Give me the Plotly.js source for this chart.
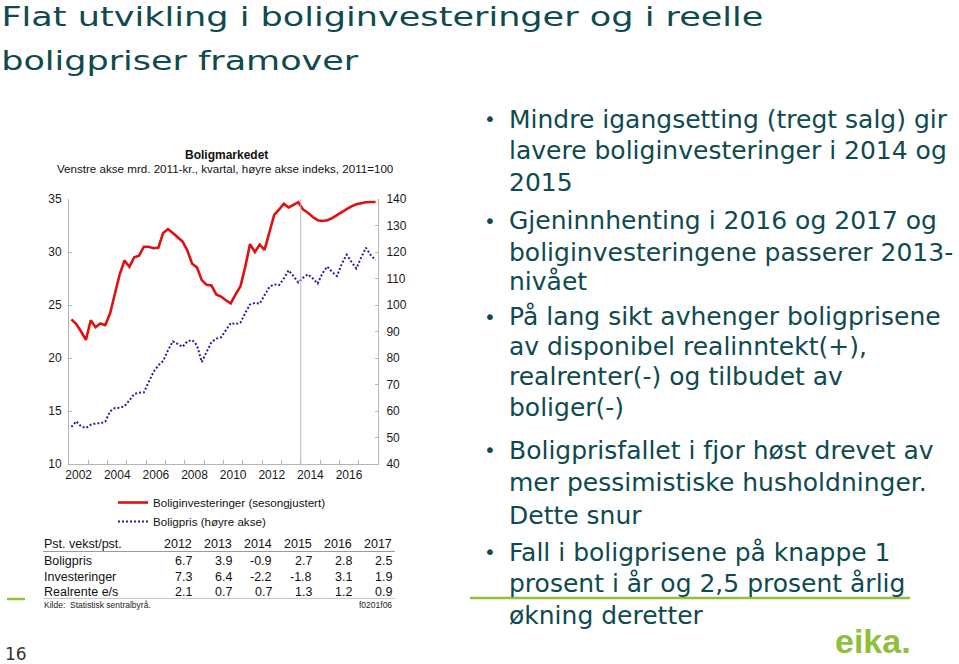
<!DOCTYPE html>
<html><head><meta charset="utf-8">
<script src="https://cdn.plot.ly/plotly-3.0.1.min.js"></script>
<style>html,body{margin:0;padding:0;background:#fff;}#chart{width:959px;height:664px;}</style>
</head><body><div id="chart"></div>
<script>
// ---- data ----
const years = [2002,2003,2004,2005,2006,2007,2008,2009,2010,2011,2012,2013,2014,2015,2016,2017];
const quarters = [1,2,3,4];
const investeringer = [
  23.65,23.2,22.5,21.7, 23.55,22.9,23.25,23.1, 24.2,26.2,27.9,29.2, 28.6,29.5,29.65,30.5,
  30.5,30.35,30.4,31.8, 32.15,31.8,31.4,31.0, 30.15,28.9,28.55,27.35, 26.9,26.85,26.0,25.8,
  25.45,25.15,26.0,26.75, 28.6,30.75,30.0,30.7, 30.2,31.8,33.5,34.0, 34.55,34.2,34.45,34.7,
  34.0,33.7,33.3,33.0, 32.92,33.0,33.2,33.5, 33.8,34.05,34.3,34.5, 34.6,34.7,34.72,34.72
];
const boligpris = [
  54.0,56.1,54.2,53.6, 54.8,55.3,55.4,55.9, 59.9,61.1,61.2,61.8, 64.0,66.4,66.9,67.0,
  70.9,74.7,77.2,78.9, 82.9,86.3,85.3,84.2, 86.3,86.8,84.8,78.5, 82.3,85.9,87.3,87.8,
  90.5,93.2,92.8,93.3, 97.0,100.2,100.8,100.5, 103.7,106.8,107.8,107.5, 110.0,113.1,110.9,108.5,
  110.3,111.6,110.0,108.1, 112.0,114.5,112.5,110.9, 115.5,119.0,116.3,113.8, 117.8,121.6,118.8,116.9
];
const xTickYears = [2002,2004,2006,2008,2010,2012,2014,2016];
const xTickLabels = ['2002','2004','2006','2008','2010','2012','2014','2016'];
const yearBounds = [2003,2004,2005,2006,2007,2008,2009,2010,2011,2012,2013,2014,2015,2016,2017];
const forecastStart = 2014;

const tableHeader = 'Pst. vekst/pst.';
const tableYears = ['2012','2013','2014','2015','2016','2017'];
const tableRowNames = ['Boligpris','Investeringer','Realrente e/s'];
const tblBoligpris = ['6.7','3.9','-0.9','2.7','2.8','2.5'];
const tblInvesteringer = ['7.3','6.4','-2.2','-1.8','3.1','1.9'];
const tblRealrente = ['2.1','0.7','0.7','1.3','1.2','0.9'];

const titleLines = ['Flat utvikling i boliginvesteringer og i reelle','boligpriser framover'];
const bullets = [
  ['Mindre igangsetting (tregt salg) gir','lavere boliginvesteringer i 2014 og','2015'],
  ['Gjeninnhenting i 2016 og 2017 og','boliginvesteringene passerer 2013-','nivået'],
  ['På lang sikt avhenger boligprisene','av disponibel realinntekt(+),','realrenter(-) og tilbudet av','boliger(-)'],
  ['Boligprisfallet i fjor høst drevet av','mer pessimistiske husholdninger.','Dette snur'],
  ['Fall i boligprisene på knappe 1','prosent i år og 2,5 prosent årlig','økning deretter']
];

// ---- layout helpers ----
const W = 959, H = 664;
const px = x => x / W;
const py = y => 1 - y / H;
const CF = 'Liberation Sans, Arial, Helvetica, sans-serif';
const SF = 'DejaVu Sans, Verdana, sans-serif';
const TEAL = '#0e4a4e';
const GREEN = '#8fc03c';

const xq = [];
years.forEach(y => quarters.forEach(q => xq.push(y + (q - 0.5) / 4)));

const traces = [
  {x: xq, y: investeringer, type: 'scatter', mode: 'lines', name: 'Boliginvesteringer (sesongjustert)',
   line: {color: '#e01010', width: 2.6}, yaxis: 'y'},
  {x: xq, y: boligpris, type: 'scatter', mode: 'lines', name: 'Boligpris (høyre akse)',
   line: {color: '#22229a', width: 2, dash: '2px,2px'}, yaxis: 'y2'}
];

const ann = [];
function A(text, x, y, opts) {
  ann.push(Object.assign({text: text, x: px(x), y: py(y), xref: 'paper', yref: 'paper',
    showarrow: false, xanchor: 'left', yanchor: 'middle', borderpad: 0,
    font: {family: CF, size: 12, color: '#1a1a1a'}}, opts || {}));
}
// slide title (centered on reference extents, then stretched to reference widths)
const titleWidths = [762, 357];
titleLines.forEach((t, i) => A(t, 1 + titleWidths[i] / 2, 17 + i * 44,
  {xanchor: 'center', font: {family: SF, size: 26, color: TEAL}}));
// bullets
const bulletY = [[118,149,181],[219.5,251,281],[316,346,376,406],[449,481,514],[551,582,614]];
bullets.forEach((lines, bi) => {
  A('•', 490, bulletY[bi][0] + 1, {xanchor: 'center', font: {family: SF, size: 20, color: TEAL}});
  lines.forEach((l, li) => A(l, 508, bulletY[bi][li] + 1, {font: {family: SF, size: 25, color: TEAL}}));
});
// chart title
A('<b>Boligmarkedet</b>', 226, 155, {xanchor: 'center', font: {family: CF, size: 12, color: '#111'}});
A('Venstre akse mrd. 2011-kr., kvartal, høyre akse indeks, 2011=100', 225, 168, {xanchor: 'center', font: {family: CF, size: 11.6, color: '#111'}});
// table
const colX = [193, 233, 273, 313, 353, 393];
const rowY = [560.5, 576.5, 592];
const tblData = [tblBoligpris, tblInvesteringer, tblRealrente];
A(tableHeader, 43, 544, {font: {family: CF, size: 12.5, color: '#111'}});
tableYears.forEach((t, c) => A(t, colX[c], 544, {xanchor: 'right', font: {family: CF, size: 12.5, color: '#111'}}));
tableRowNames.forEach((r, i) => {
  A(r, 43, rowY[i], {font: {family: CF, size: 12.5, color: '#111'}});
  tblData[i].forEach((v, c) => A(v, colX[c], rowY[i], {xanchor: 'right', font: {family: CF, size: 12.5, color: '#111'}}));
});
A('Kilde:  Statistisk sentralbyrå.', 43, 605, {font: {family: CF, size: 8.5, color: '#222'}});
A('f0201f06', 393, 605, {xanchor: 'right', font: {family: CF, size: 8.5, color: '#222'}});
// page number + logo
A('16', 4, 654, {font: {family: SF, size: 17, color: '#333'}});
A('<b>eika.</b>', 873, 641, {xanchor: 'center', font: {family: CF, size: 34, color: GREEN}});

const shapes = [
  {type: 'line', xref: 'x', yref: 'y domain', x0: forecastStart, x1: forecastStart, y0: 0, y1: 1,
   line: {color: '#b8b8b8', width: 1}},
  {type: 'line', xref: 'paper', yref: 'paper', x0: px(43), x1: px(395), y0: py(551.5), y1: py(551.5),
   line: {color: '#9a9a9a', width: 1}},
  {type: 'line', xref: 'paper', yref: 'paper', x0: px(43), x1: px(395), y0: py(598.5), y1: py(598.5),
   line: {color: '#c8c8c8', width: 1}},
  {type: 'line', xref: 'paper', yref: 'paper', x0: px(7), x1: px(25), y0: py(599), y1: py(599),
   line: {color: GREEN, width: 2.5}},
  {type: 'line', xref: 'paper', yref: 'paper', x0: px(470), x1: px(910), y0: py(598), y1: py(598),
   line: {color: GREEN, width: 2.5}}
];

const axisCommon = {showgrid: false, zeroline: false, showline: true, linecolor: '#b5b5b5', linewidth: 1,
  tickcolor: '#b5b5b5', tickfont: {family: CF, size: 12, color: '#1a1a1a'}};

const layout = {
  width: W, height: H, margin: {l: 0, r: 0, t: 0, b: 0},
  paper_bgcolor: '#fff', plot_bgcolor: '#fff',
  showlegend: true,
  legend: {x: px(113), y: py(488), xanchor: 'left', yanchor: 'top', bgcolor: 'rgba(0,0,0,0)',
    font: {family: CF, size: 11.6, color: '#111'}, itemwidth: 30, tracegroupgap: 0},
  xaxis: Object.assign({}, axisCommon, {domain: [px(69), px(378)], range: [2002, 2018],
    tickmode: 'array', tickvals: xTickYears.map(y => y + 0.5), ticktext: xTickLabels, ticks: '',
    minor: {tickmode: 'array', tickvals: yearBounds, ticks: 'inside', ticklen: 4, tickcolor: '#b5b5b5'}}),
  yaxis: Object.assign({}, axisCommon, {domain: [py(464), py(199)], range: [10, 35], dtick: 5, tick0: 10,
    ticks: 'inside', ticklen: 3, ticklabelstandoff: 4}),
  yaxis2: Object.assign({}, axisCommon, {overlaying: 'y', side: 'right', anchor: 'x', range: [40, 140], dtick: 10, tick0: 40,
    ticks: 'inside', ticklen: 3, ticklabelstandoff: 5}),
  annotations: ann,
  shapes: shapes
};

Plotly.newPlot('chart', traces, layout, {displayModeBar: false, staticPlot: true}).then(() => {
  // horizontally stretch slide title lines to the reference widths (anchored at their centres)
  document.querySelectorAll('text.annotation-text').forEach(el => {
    const i = titleLines.indexOf(el.textContent);
    if (i >= 0) {
      el.setAttribute('textLength', titleWidths[i]);
      el.setAttribute('lengthAdjust', 'spacingAndGlyphs');
    }
  });
});
</script></body></html>
